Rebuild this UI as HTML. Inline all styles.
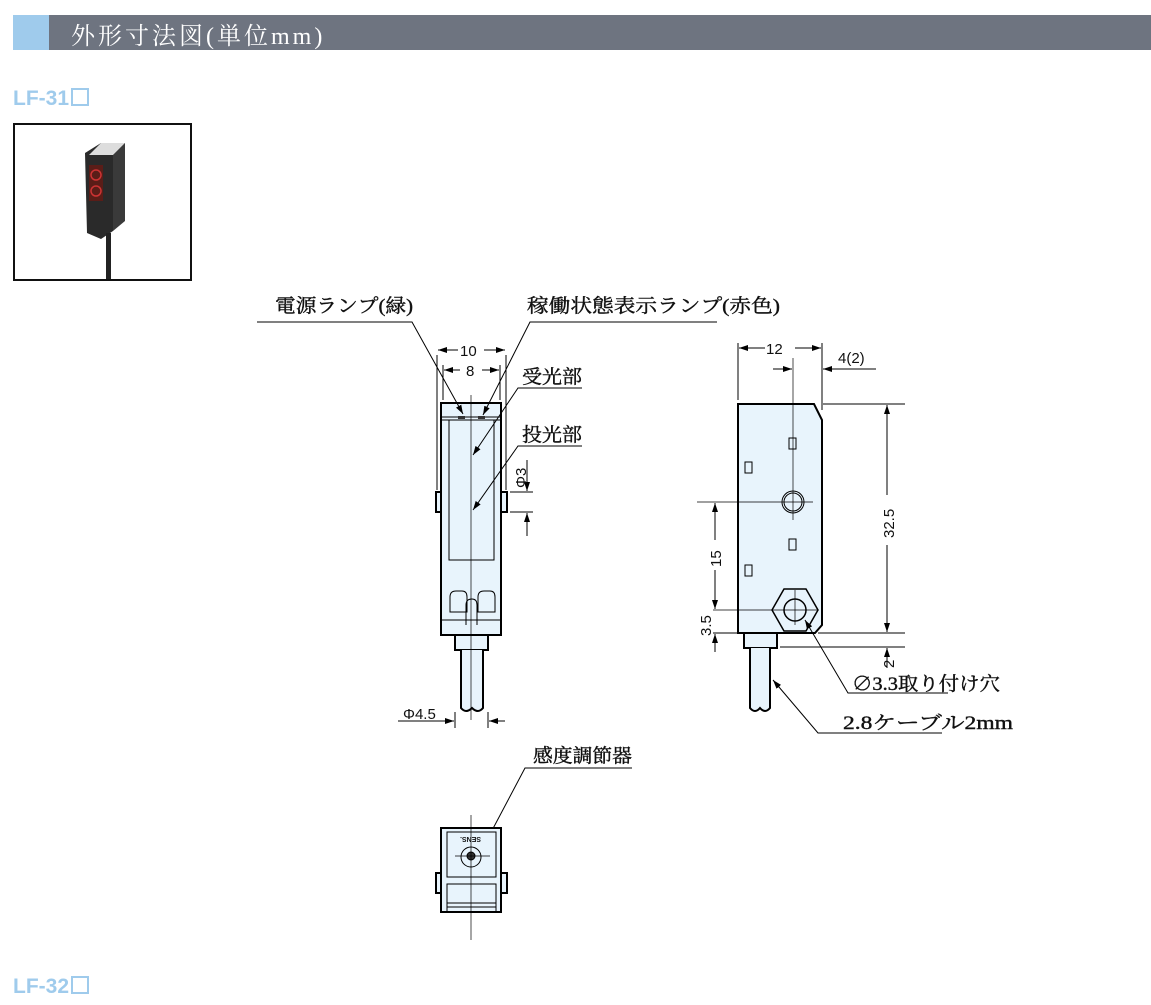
<!DOCTYPE html>
<html><head><meta charset="utf-8"><style>
body{margin:0;width:1151px;height:1005px;background:#fff;overflow:hidden;position:relative;font-family:"Liberation Sans","Noto Sans CJK JP",sans-serif}
.hdr{position:absolute;left:13px;top:15px;width:1138px;height:35px;background:#6e7480}
.hdr i{position:absolute;left:0;top:0;width:36px;height:35px;background:#9fcbec}
.hdr span{position:absolute;left:58px;top:1px;color:#fff;font:24px "Liberation Serif","Noto Serif CJK SC",serif;letter-spacing:3px}
.lf{position:absolute;left:13px;color:#9fcbec;font:bold 21px "Liberation Sans",sans-serif}
.lf b{display:inline-block;width:14px;height:14px;border:2px solid #9fcbec;margin-left:2px;vertical-align:-1px}
.photo{position:absolute;left:13px;top:123px;width:175px;height:154px;border:2px solid #111;background:#fff}
</style></head><body>
<div class="hdr"><i></i><span>外形寸法図(単位mm)</span></div>
<div class="lf" style="top:87px">LF-31<b></b></div>
<div class="lf" style="top:975px">LF-32<b></b></div>
<div class="photo">
<svg width="175" height="154">
<polygon points="70,28 86,18 110,18 98,30 98,106 86,114 72,108" fill="#2a2a2a"/>
<polygon points="86,18 110,18 98,30 74,30" fill="#ddd"/>
<polygon points="98,30 110,18 110,96 98,106" fill="#3a3a3a"/>
<rect x="74" y="40" width="14" height="36" fill="#5a1d18"/>
<circle cx="81" cy="50" r="5" fill="none" stroke="#c33" stroke-width="1.5"/>
<circle cx="81" cy="66" r="5" fill="none" stroke="#c33" stroke-width="1.5"/>
<rect x="91" y="108" width="5" height="46" fill="#222"/>
</svg></div>
<svg width="1151" height="1005" style="position:absolute;left:0;top:0" font-family="Liberation Serif,Noto Serif CJK SC,serif">
<defs><marker id="a" markerWidth="10" markerHeight="6" refX="9" refY="3" orient="auto" markerUnits="userSpaceOnUse"><path d="M0,0 L9,3 L0,6z" fill="#000"/></marker></defs>
<g stroke="#000" fill="none" stroke-width="1">
<rect x="436" y="492" width="6" height="20" fill="#e8f4fc" stroke-width="2"/>
<rect x="500" y="492" width="7" height="20" fill="#e8f4fc" stroke-width="2"/>
<rect x="441" y="403" width="60" height="232" fill="#e8f4fc" stroke-width="2"/>
<line x1="442" y1="417" x2="500" y2="417"/><line x1="442" y1="420" x2="500" y2="420"/>
<rect x="449" y="420" width="45" height="140"/>
<rect x="458" y="416" width="7" height="3" fill="#333" stroke="none"/><rect x="478" y="416" width="7" height="3" fill="#333" stroke="none"/>
<path d="M450,612 V597 q0,-6 6,-6 h6 q5,0 5,6 V612z"/><path d="M478,612 V597 q0,-6 6,-6 h6 q5,0 5,6 V612z"/>
<path d="M466,625 V605 q0,-6 6,-6 q5,0 5,6 V625"/>
<line x1="442" y1="620" x2="500" y2="620"/>
<rect x="455" y="635" width="33" height="15" fill="#e8f4fc" stroke-width="2"/>
<path d="M461,650 V708 q5,6 11,0 q6,6 11,0 V650" fill="#e8f4fc" stroke-width="2"/>
<line x1="471" y1="395" x2="471" y2="720" stroke-width="0.7"/>
<line x1="437" y1="355" x2="437" y2="490"/><line x1="506" y1="355" x2="506" y2="490"/>
<line x1="443" y1="365" x2="443" y2="400"/><line x1="500" y1="365" x2="500" y2="400"/>
<line x1="458" y1="350" x2="438" y2="350" marker-end="url(#a)"/><line x1="484" y1="350" x2="505" y2="350" marker-end="url(#a)"/>
<line x1="460" y1="370" x2="444" y2="370" marker-end="url(#a)"/><line x1="482" y1="370" x2="499" y2="370" marker-end="url(#a)"/>
<line x1="510" y1="492" x2="533" y2="492"/><line x1="510" y1="512" x2="533" y2="512"/>
<line x1="527" y1="460" x2="527" y2="491" marker-end="url(#a)"/><line x1="527" y1="536" x2="527" y2="513" marker-end="url(#a)"/>
<line x1="455" y1="712" x2="455" y2="728"/><line x1="488" y1="712" x2="488" y2="728"/>
<line x1="398" y1="721" x2="454" y2="721" marker-end="url(#a)"/><line x1="505" y1="721" x2="489" y2="721" marker-end="url(#a)"/>
<polyline points="257,322 412,322 463,414" marker-end="url(#a)"/>
<polyline points="717,322 530,322 483,415" marker-end="url(#a)"/>
<polyline points="582,388 518,388 473,455" marker-end="url(#a)"/>
<polyline points="582,446 518,446 473,510" marker-end="url(#a)"/>
<polyline points="632,768 525,768 488,838" marker-end="url(#a)"/>
<rect x="436" y="873" width="6" height="20" fill="#e8f4fc" stroke-width="2"/>
<rect x="500" y="873" width="7" height="20" fill="#e8f4fc" stroke-width="2"/>
<rect x="441" y="828" width="60" height="84" fill="#e8f4fc" stroke-width="2"/>
<rect x="447" y="832" width="49" height="45"/>
<rect x="447" y="884" width="49" height="28"/>
<line x1="447" y1="903" x2="496" y2="903"/><line x1="447" y1="907" x2="496" y2="907"/>
<circle cx="471" cy="857" r="10"/><circle cx="471" cy="856" r="4" fill="#333"/>
<line x1="455" y1="856" x2="490" y2="856" stroke-width="0.7"/>
<line x1="471" y1="815" x2="471" y2="940" stroke-width="0.7"/>
<path d="M738,404 H814 L822,420 V625 L815,633 H738Z" fill="#e8f4fc" stroke-width="2"/>
<rect x="744" y="633" width="33" height="15" fill="#e8f4fc" stroke-width="2"/>
<path d="M750,648 V708 q5,6 10,0 q5,6 10,0 V648" fill="#e8f4fc" stroke-width="2"/>
<polygon points="784,589 806,589 818,610 806,631 784,631 772,610" fill="#e8f4fc" stroke-width="1.5"/>
<circle cx="795" cy="610" r="11" stroke-width="1.5"/>
<circle cx="793" cy="502" r="11"/><circle cx="793" cy="502" r="9"/>
<rect x="789" y="438" width="7" height="11"/><rect x="745" y="462" width="7" height="11"/>
<rect x="789" y="539" width="7" height="11"/><rect x="745" y="565" width="7" height="11"/>
<line x1="793" y1="358" x2="793" y2="520" stroke-width="0.7"/>
<line x1="697" y1="502" x2="813" y2="502" stroke-width="0.7"/>
<line x1="713" y1="610" x2="818" y2="610" stroke-width="0.7"/>
<line x1="795" y1="590" x2="795" y2="625" stroke-width="0.7"/>
<line x1="738" y1="343" x2="738" y2="400"/><line x1="822" y1="343" x2="822" y2="410"/>
<line x1="765" y1="348" x2="739" y2="348" marker-end="url(#a)"/><line x1="795" y1="348" x2="821" y2="348" marker-end="url(#a)"/>
<line x1="773" y1="369" x2="792" y2="369" marker-end="url(#a)"/><line x1="876" y1="369" x2="823" y2="369" marker-end="url(#a)"/>
<line x1="823" y1="404" x2="905" y2="404"/><line x1="818" y1="633" x2="905" y2="633"/>
<line x1="780" y1="647" x2="905" y2="647"/>
<line x1="887" y1="495" x2="887" y2="405" marker-end="url(#a)"/><line x1="887" y1="545" x2="887" y2="632" marker-end="url(#a)"/>
<line x1="887" y1="668" x2="887" y2="648" marker-end="url(#a)"/>
<line x1="715" y1="540" x2="715" y2="503" marker-end="url(#a)"/><line x1="715" y1="570" x2="715" y2="609" marker-end="url(#a)"/>
<line x1="713" y1="633" x2="740" y2="633"/>
<line x1="715" y1="652" x2="715" y2="634" marker-end="url(#a)"/>
<polyline points="948,693 848,693 805,620" marker-end="url(#a)"/>
<polyline points="942,733 818,733 773,680" marker-end="url(#a)"/>
</g>
<g font-size="19" fill="#111" stroke="#111" stroke-width="0.4">
<text x="275" y="312" textLength="138" lengthAdjust="spacingAndGlyphs">電源ランプ(緑)</text>
<text x="527" y="312" textLength="253" lengthAdjust="spacingAndGlyphs">稼働状態表示ランプ(赤色)</text>
<text x="522" y="383" textLength="60" lengthAdjust="spacingAndGlyphs">受光部</text>
<text x="522" y="441" textLength="60" lengthAdjust="spacingAndGlyphs">投光部</text>
<text x="533" y="762" textLength="99" lengthAdjust="spacingAndGlyphs">感度調節器</text>
<text x="852" y="690" textLength="148" lengthAdjust="spacingAndGlyphs">∅3.3取り付け穴</text>
<text x="843" y="729" textLength="170" lengthAdjust="spacingAndGlyphs">2.8ケーブル2mm</text>
</g>
<g font-family="Liberation Sans,sans-serif" font-size="15" fill="#111">
<text x="460" y="356">10</text><text x="466" y="376">8</text>
<text x="403" y="719">Φ4.5</text>
<text x="766" y="354">12</text><text x="838" y="363">4(2)</text>
<text transform="translate(526,488) rotate(-90)">Φ3</text>
<text transform="translate(894,538) rotate(-90)">32.5</text>
<text transform="translate(894,668) rotate(-90)">2</text>
<text transform="translate(721,567) rotate(-90)">15</text>
<text transform="translate(711,636) rotate(-90)">3.5</text>
</g>
<g font-size="7" fill="#111" font-family="Liberation Sans,sans-serif"><text x="461" y="843" font-weight="bold" transform="rotate(180 471 840)">SENS.</text></g>
</svg>
</body></html>
